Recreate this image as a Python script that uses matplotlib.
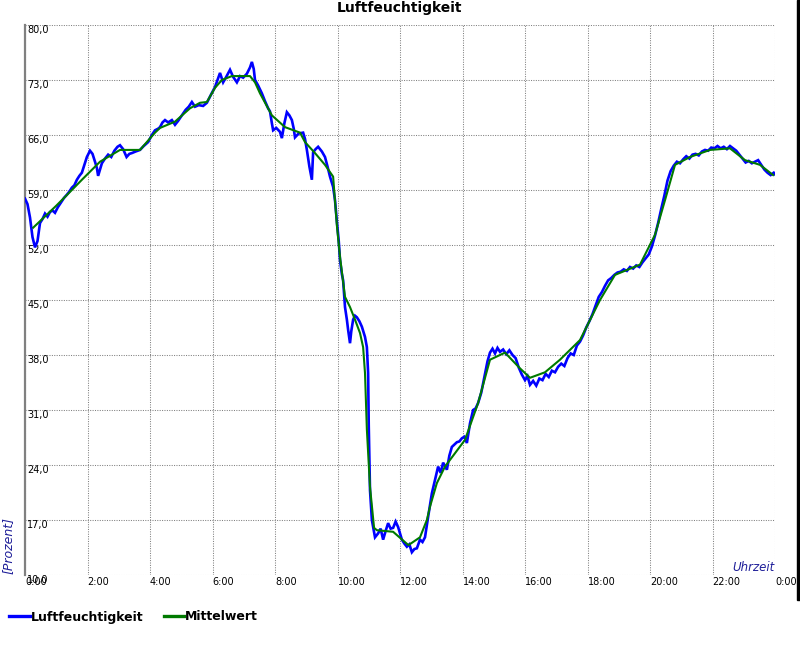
import matplotlib
matplotlib.use("Agg")
import matplotlib.pyplot as plt
from matplotlib.patches import Rectangle
from matplotlib.lines import Line2D

plt.rcParams['font.family'] = ['DejaVu Sans']

title = "Luftfeuchtigkeit"
series_names = ["Luftfeuchtigkeit", "Mittelwert"]
x_label = "Uhrzeit"
y_label = "[Prozent]"

y_ticks = [10, 17, 24, 31, 38, 45, 52, 59, 66, 73, 80]
x_ticks = [0, 2, 4, 6, 8, 10, 12, 14, 16, 18, 20, 22, 24]
x_tick_labels = ["0:00", "2:00", "4:00", "6:00", "8:00", "10:00", "12:00",
                 "14:00", "16:00", "18:00", "20:00", "22:00", "0:00"]

# Luftfeuchtigkeit (hours, percent)
hum_t = [0.00, 0.08, 0.16, 0.24, 0.32, 0.40, 0.48, 0.56, 0.64, 0.72, 0.80, 0.88, 0.96,
         1.05, 1.15, 1.25, 1.34, 1.42, 1.50, 1.58, 1.66, 1.74, 1.82, 1.90, 1.98,
         2.08, 2.16, 2.24, 2.30, 2.34, 2.40, 2.46, 2.56, 2.66, 2.76, 2.86, 2.96,
         3.04, 3.14, 3.25, 3.34, 3.42, 3.54, 3.68, 3.80, 3.94, 4.06, 4.16, 4.26,
         4.32, 4.40, 4.48, 4.58, 4.70, 4.80, 4.90, 5.02, 5.14, 5.24, 5.34, 5.44,
         5.56, 5.70, 5.82, 5.96, 6.08, 6.16, 6.24, 6.34, 6.44, 6.56, 6.66, 6.78,
         6.88, 6.98, 7.10, 7.20, 7.26, 7.32, 7.36, 7.46, 7.58, 7.68, 7.78, 7.84,
         7.90, 7.94, 8.04, 8.16, 8.22, 8.30, 8.38, 8.46, 8.54, 8.60, 8.64, 8.76,
         8.90, 8.96, 9.02, 9.10, 9.18, 9.22, 9.30, 9.38, 9.50, 9.60, 9.68, 9.76,
         9.86, 9.92, 9.98, 10.04, 10.08, 10.14, 10.18, 10.24, 10.30, 10.34, 10.40,
         10.44, 10.50, 10.56, 10.62, 10.70, 10.78, 10.88, 10.94, 10.98, 11.00,
         11.04, 11.10, 11.20, 11.30, 11.38, 11.46, 11.54, 11.62, 11.70, 11.78,
         11.86, 11.94, 12.06, 12.14, 12.22, 12.30, 12.38, 12.46, 12.54, 12.64,
         12.72, 12.80, 12.90, 13.02, 13.12, 13.22, 13.30, 13.38, 13.50, 13.58,
         13.66, 13.74, 13.82, 13.90, 13.98, 14.06, 14.14, 14.24, 14.34, 14.42,
         14.50, 14.60, 14.70, 14.80, 14.88, 14.96, 15.04, 15.12, 15.20, 15.30,
         15.40, 15.50, 15.60, 15.70, 15.80, 15.90, 16.00, 16.08, 16.16, 16.26,
         16.36, 16.46, 16.56, 16.66, 16.76, 16.86, 16.96, 17.06, 17.16, 17.26,
         17.36, 17.46, 17.56, 17.66, 17.76, 17.86, 17.96, 18.06, 18.16, 18.26,
         18.36, 18.46, 18.56, 18.66, 18.76, 18.86, 18.96, 19.06, 19.16, 19.26,
         19.36, 19.46, 19.56, 19.66, 19.76, 19.86, 19.96, 20.06, 20.16, 20.26,
         20.36, 20.46, 20.56, 20.66, 20.76, 20.86, 20.96, 21.06, 21.16, 21.26,
         21.36, 21.46, 21.56, 21.66, 21.76, 21.86, 21.96, 22.06, 22.16, 22.26,
         22.36, 22.46, 22.56, 22.66, 22.76, 22.86, 22.96, 23.06, 23.16, 23.26,
         23.36, 23.46, 23.56, 23.66, 23.76, 23.86, 23.96, 24.00]
hum_v = [57.9, 57.2, 55.5, 53.0, 51.7, 52.5, 54.8, 55.3, 56.0, 55.6, 56.2, 56.4, 56.1,
         56.8, 57.4, 58.0, 58.4, 58.8, 59.3, 59.6, 60.3, 60.8, 61.2, 62.2, 63.2,
         64.0, 63.6, 62.6, 61.8, 60.8, 61.6, 62.4, 63.0, 63.5, 63.2, 64.0, 64.5,
         64.7, 64.2, 63.2, 63.6, 63.7, 63.9, 64.1, 64.6, 65.1, 66.0, 66.6, 66.8,
         67.0, 67.6, 67.9, 67.6, 67.9, 67.3, 67.8, 68.5, 69.2, 69.6, 70.2, 69.6,
         69.8, 69.7, 70.1, 71.2, 72.1, 73.0, 73.9, 72.7, 73.4, 74.3, 73.4, 72.7,
         73.5, 73.3, 73.8, 74.6, 75.3, 74.4, 73.0, 72.3, 71.3, 70.3, 69.4, 69.0,
         67.5, 66.6, 66.9, 66.4, 65.6, 67.5, 68.9, 68.5, 67.9, 66.8, 65.7, 66.2,
         66.3, 65.5, 64.1, 62.0, 60.3, 63.8, 64.2, 64.5, 63.9, 63.2, 62.0, 60.7,
         59.4, 57.7, 55.0, 52.5, 50.1, 48.3, 47.5, 44.1, 42.5, 41.2, 39.5,
         41.0, 42.5, 43.0, 42.8, 42.3, 41.6, 40.3, 39.0, 35.7, 29.0,
         20.8, 17.0, 14.8, 15.3, 15.9, 14.5, 15.6, 16.6, 15.9, 16.0,
         16.8, 16.1, 14.5, 14.0, 13.6, 13.9, 12.9, 13.3, 13.4, 14.5,
         14.2, 14.8, 17.4, 20.4, 22.1, 23.8, 23.0, 24.3, 23.4, 25.2,
         26.3, 26.6, 26.9, 27.0, 27.4, 27.6, 26.8, 29.3, 31.0, 31.2,
         31.9, 33.2, 35.2, 37.2, 38.3, 38.8, 38.2, 38.9, 38.4, 38.7,
         38.1, 38.6, 38.0, 37.6, 36.4, 35.5, 34.8, 35.3, 34.2, 34.7,
         34.1, 35.0, 34.8, 35.6, 35.2, 36.0, 35.8, 36.5, 36.9, 36.6,
         37.6, 38.2, 38.0, 39.2, 39.7, 40.5, 41.5, 42.3, 43.2, 44.3,
         45.4, 46.0, 46.8, 47.5, 47.8, 48.2, 48.5, 48.6, 48.9, 48.7,
         49.2, 49.0, 49.4, 49.2, 49.8, 50.3, 50.8, 51.8, 53.2, 54.8,
         56.6, 58.3, 60.2, 61.4, 62.1, 62.6, 62.4, 62.9, 63.3, 63.0,
         63.5, 63.6, 63.4, 63.9, 64.1, 64.0, 64.4, 64.3, 64.6, 64.3,
         64.5, 64.2, 64.6, 64.3, 64.0, 63.5, 63.0, 62.5, 62.7, 62.4,
         62.6, 62.8, 62.2, 61.6, 61.2, 60.9, 61.2, 61.0]

# Mittelwert (hours, percent)
avg_t = [0.26, 1.00, 1.50, 1.82, 2.40, 3.04, 3.68, 4.16, 4.32, 4.80, 5.28, 5.60,
         5.82, 6.08, 6.30, 6.62, 7.20, 7.36, 7.52, 7.90, 8.32, 8.80, 8.96, 9.28,
         9.60, 9.86, 9.98, 10.08, 10.24, 10.40, 10.56, 10.72, 10.82, 10.88, 10.94,
         11.04, 11.17, 11.26, 11.78, 12.27, 12.64, 12.86, 12.96, 13.18, 13.44,
         13.76, 14.08, 14.50, 14.88, 15.36, 15.84, 16.16, 16.64, 17.12, 17.76,
         18.40, 18.88, 19.68, 20.16, 20.48, 20.80, 21.28, 21.92, 22.56, 23.04,
         23.52, 23.94]
avg_v = [54.2, 57.0, 59.0, 60.3, 62.6, 64.1, 64.1, 66.3, 66.9, 67.7, 69.4, 70.1,
         70.2, 72.0, 73.0, 73.5, 73.5, 72.7, 71.3, 68.5, 67.0, 66.3, 65.1, 63.7,
         62.2, 60.7, 54.5, 50.5, 45.4, 44.1, 42.5, 40.8, 39.0, 35.7, 28.5,
         21.2, 16.0, 15.7, 15.5, 13.8, 14.8, 17.0, 18.7, 21.7, 23.8,
         25.5, 27.2, 31.9, 37.4, 38.3, 36.3, 35.1, 35.8, 37.4, 39.9,
         45.0, 48.2, 49.5, 53.3, 57.7, 62.2, 63.2, 64.1, 64.3, 62.8,
         62.2, 60.9]

W, H = 800, 650
fig = plt.figure(figsize=(W / 100, H / 100), dpi=100)
fig.patch.set_facecolor('white')
ax = fig.add_axes([25 / W, 1 - 575 / H, 750 / W, 550 / H])

ax.plot(hum_t, hum_v, color='#0000ff', lw=1.9, solid_joinstyle='miter', zorder=3)
ax.plot(avg_t, avg_v, color='#007a00', lw=1.5, zorder=4)

ax.set_xlim(0, 24)
ax.set_ylim(10, 80)
ax.set_xticks(x_ticks)
ax.set_xticklabels(x_tick_labels)
ax.set_yticks(y_ticks)
ax.set_yticklabels([f"{v:.1f}".replace('.', ',') for v in y_ticks])
ax.tick_params(axis='both', length=0, labelsize=7, colors='black')
ax.tick_params(axis='y', pad=-1.5)
ax.tick_params(axis='x', pad=1.5)
for lab in ax.get_yticklabels():
    lab.set_ha('left')
    lab.set_va('top')
for lab in ax.get_xticklabels():
    lab.set_ha('left')

ax.grid(True, color='#808080', lw=0.75, linestyle=(0, (1, 1.3)))
for s in ['top', 'right', 'bottom']:
    ax.spines[s].set_visible(False)
ax.spines['left'].set_color('#808080')
ax.spines['left'].set_linewidth(1.6)
ax.set_axisbelow(True)

ax.text(1.0, 0.002, x_label, transform=ax.transAxes, ha='right', va='bottom',
        fontsize=8.5, style='italic', color='#1f1f99')
fig.text(8 / W, 1 - 545 / H, y_label, rotation=90, ha='center', va='center',
         fontsize=9, style='italic', color='#1f1f99')
fig.text(0.5, 1 - 8 / H, title, ha='center', va='center', fontsize=10,
         fontweight='bold')

handles = [Line2D([], [], color='#0000ff', lw=2.4),
           Line2D([], [], color='#007a00', lw=2.4)]
leg = fig.legend(handles, series_names, loc='center left',
                 bbox_to_anchor=(4 / W, 1 - 617 / H), ncol=2, frameon=False,
                 handlelength=1.65, handletextpad=0.1, columnspacing=1.6,
                 prop={'size': 9, 'weight': 'bold'}, borderaxespad=0)

fig.add_artist(Rectangle((797 / W, 1 - 600 / H), 3 / W, 600 / H,
                         transform=fig.transFigure, color='black', zorder=10))

fig.savefig('out.png', dpi=100)
